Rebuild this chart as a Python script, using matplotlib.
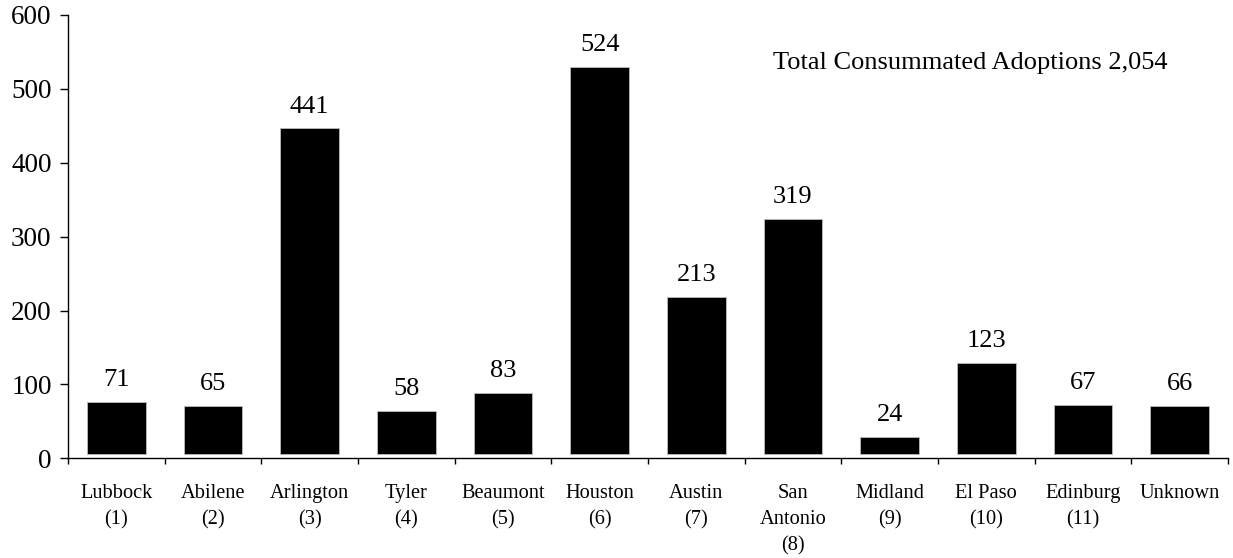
import matplotlib
matplotlib.use("Agg")
import matplotlib.pyplot as plt
import matplotlib.transforms as mtransforms
import numpy as np

cities = ["Lubbock\n(1)", "Abilene\n(2)", "Arlington\n(3)", "Tyler\n(4)", "Beaumont\n(5)",
          "Houston\n(6)", "Austin\n(7)", "San\nAntonio\n(8)", "Midland\n(9)", "El Paso\n(10)",
          "Edinburg\n(11)", "Unknown"]
adoptions = [71, 65, 441, 58, 83, 524, 213, 319, 24, 123, 67, 66]
y_ticks = [0, 100, 200, 300, 400, 500, 600]
total_text = "Total Consummated Adoptions 2,054"

plt.rcParams['font.family'] = ['Liberation Serif', 'DejaVu Serif']

fig = plt.figure(figsize=(12.33, 5.58), dpi=100)
ax = fig.add_axes([68/1233, 1 - 458.3/558, 1160/1233, 443.3/558])

x = np.arange(len(cities))
shift = mtransforms.ScaledTranslation(0, 4/100, fig.dpi_scale_trans)
bars = ax.bar(x, adoptions, width=0.61, color='black', edgecolor='#bbbbbb', linewidth=0.6,
              transform=ax.transData + shift)

for xi, v in zip(x, adoptions):
    ax.annotate(str(v), xy=(xi, v), xytext=(0, 11.5), textcoords='offset points',
                xycoords=ax.transData + shift,
                ha='center', va='baseline', fontsize=19)

ax.set_xlim(-0.5, len(cities) - 0.5)
ax.set_ylim(0, 600)
ax.set_yticks(y_ticks)
ax.tick_params(axis='y', direction='out', length=5.8, width=1, labelsize=19.5, pad=6)

ax.set_xticks(x)
ax.set_xticklabels(cities, fontsize=14.7, linespacing=1.52, va='top')
ax.set_xticks(np.arange(-0.5, len(cities)), minor=True)
ax.tick_params(axis='x', which='major', length=0, pad=18.5)
ax.tick_params(axis='x', which='minor', direction='out', length=4.3, width=1)

for s in ['top', 'right']:
    ax.spines[s].set_visible(False)
for s in ['left', 'bottom']:
    ax.spines[s].set_linewidth(1.0)

ax.text((773 - 68) / 1160, (458.3 - 69) / 443.3, total_text, transform=ax.transAxes,
        ha='left', va='baseline', fontsize=19)

fig.savefig("out.png", dpi=100)
